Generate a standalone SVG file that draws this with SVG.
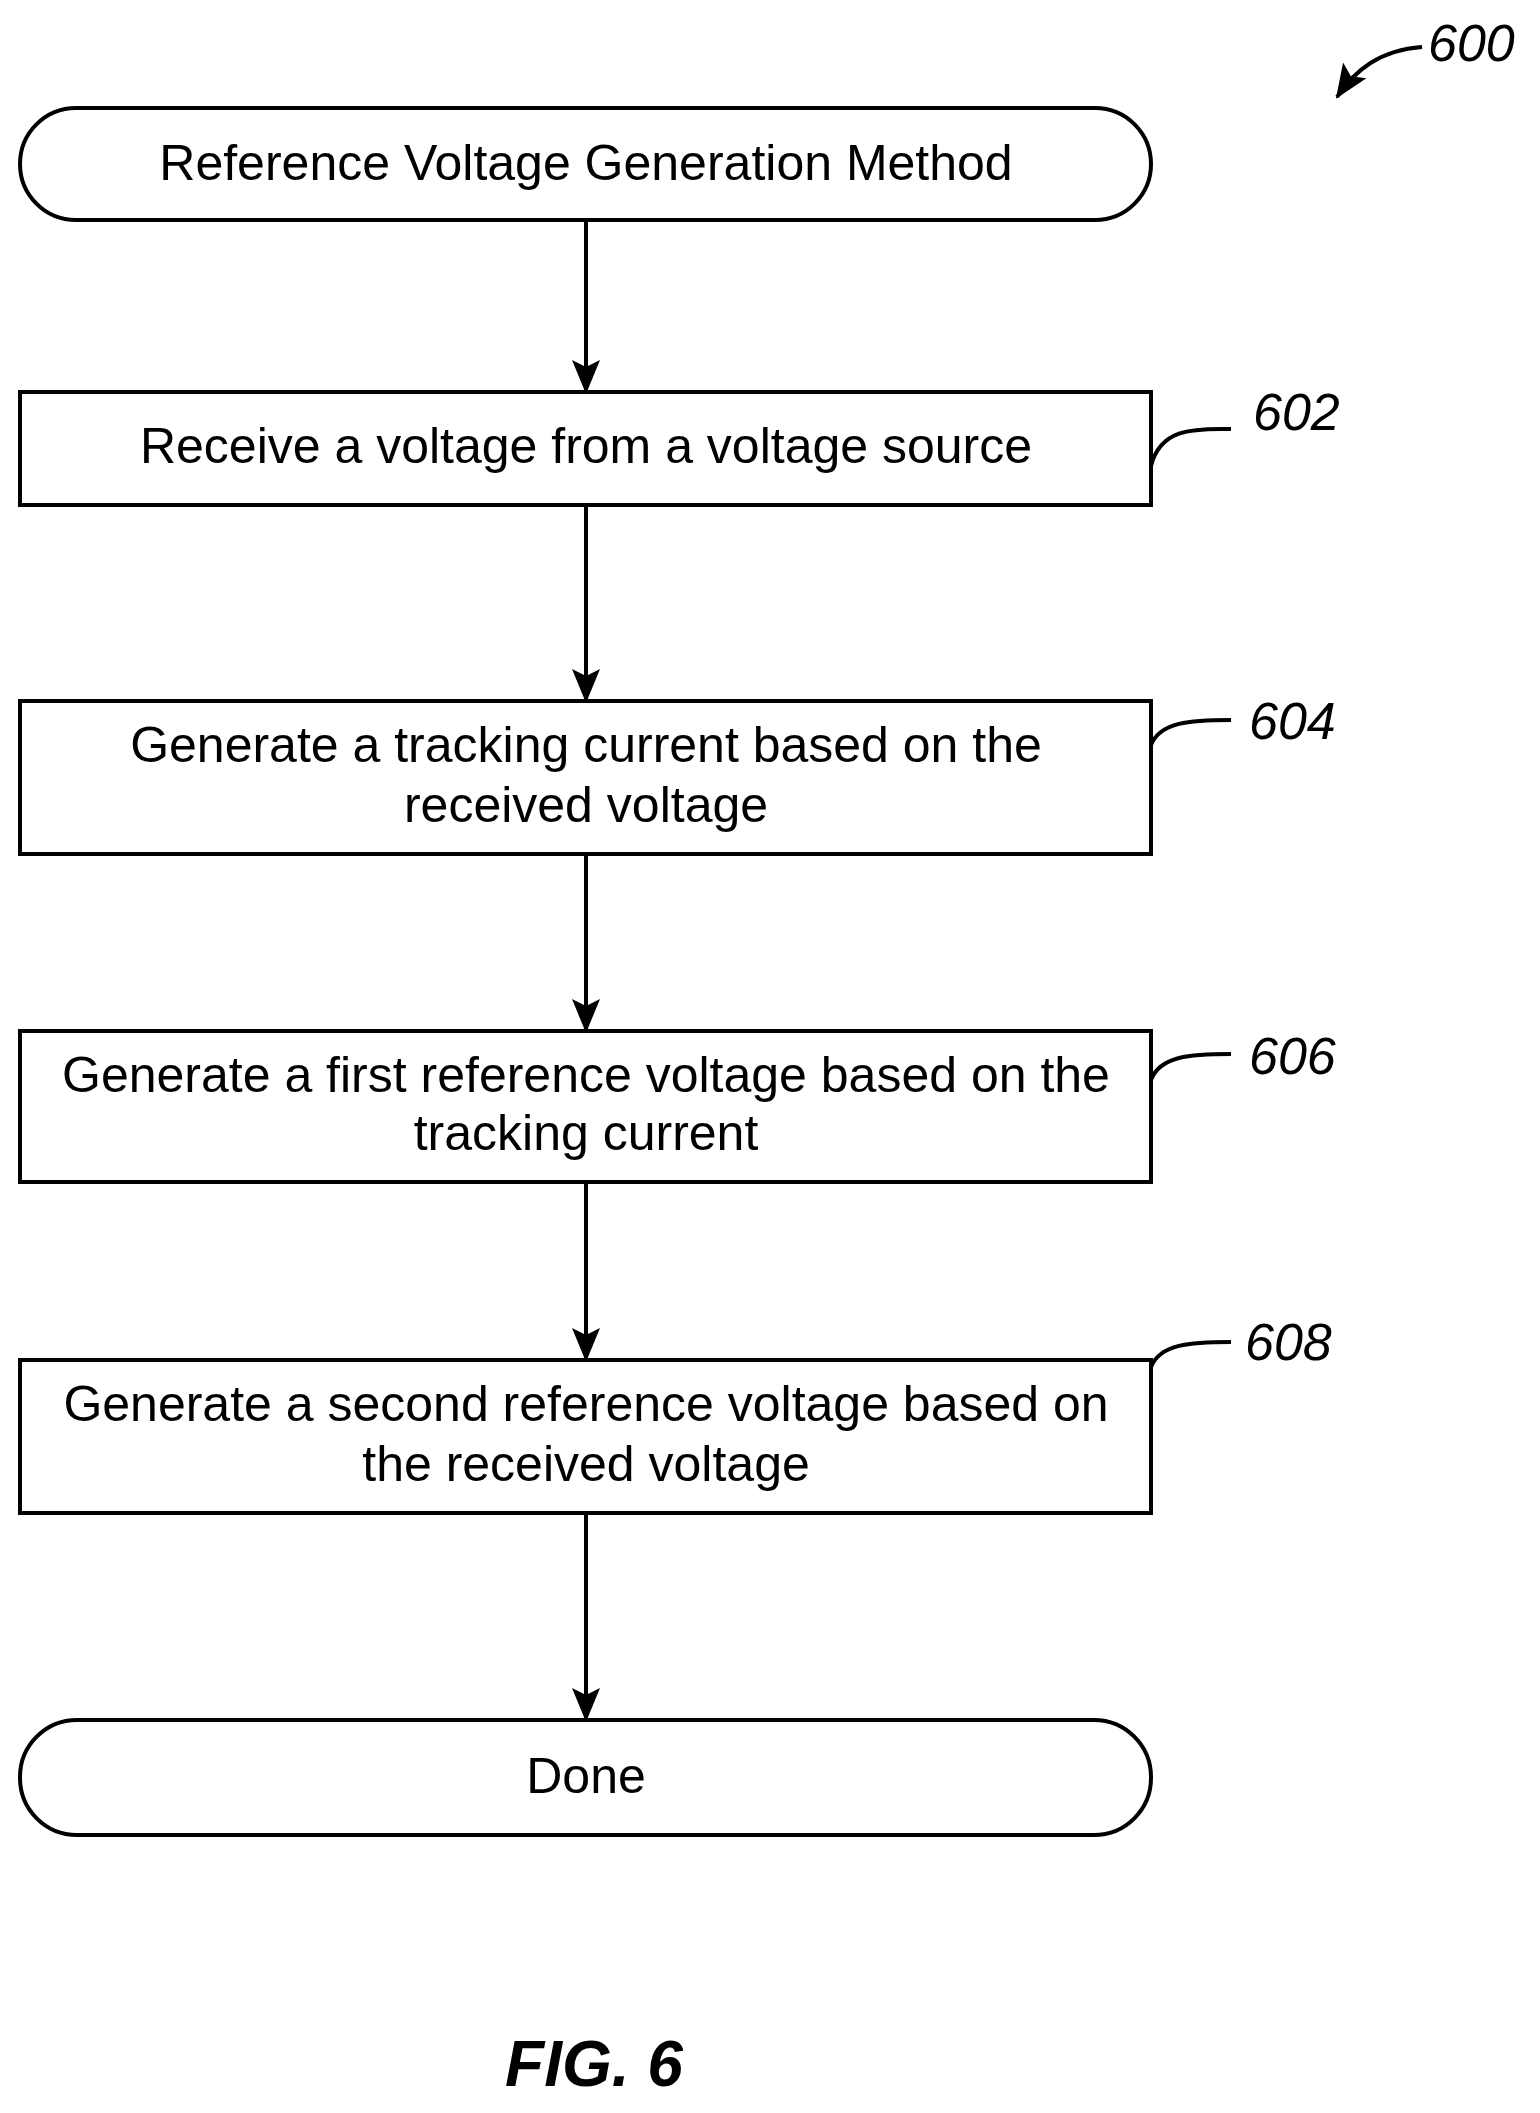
<svg xmlns="http://www.w3.org/2000/svg" width="1540" height="2113" viewBox="0 0 1540 2113">
<defs>
<style>
.b{fill:#fff;stroke:#000;stroke-width:4}
.t{font-family:"Liberation Sans",Arial,sans-serif;font-size:50px;text-anchor:middle;fill:#000}
.r{font-family:"Liberation Sans",Arial,sans-serif;font-size:52px;font-style:italic;fill:#000}
.c{fill:none;stroke:#000;stroke-width:4}
</style>
<marker id="ah" markerWidth="34" markerHeight="40" refX="32" refY="20" orient="auto" markerUnits="userSpaceOnUse"><path d="M0,6 L34,20 L0,34 L7,20 Z" fill="#000"/></marker>
</defs>
<rect width="1540" height="2113" fill="#fff"/>
<g id="connectors">
<line class="c" x1="586" y1="220" x2="586" y2="392" marker-end="url(#ah)"/>
<line class="c" x1="586" y1="505" x2="586" y2="701" marker-end="url(#ah)"/>
<line class="c" x1="586" y1="854" x2="586" y2="1031" marker-end="url(#ah)"/>
<line class="c" x1="586" y1="1182" x2="586" y2="1360" marker-end="url(#ah)"/>
<line class="c" x1="586" y1="1513" x2="586" y2="1720" marker-end="url(#ah)"/>
<path class="c" d="M1151,466 C1160,430 1190,428 1231,429"/>
<path class="c" d="M1151,745 C1160,722 1190,720 1231,720"/>
<path class="c" d="M1151,1080 C1160,1056 1190,1054 1231,1054"/>
<path class="c" d="M1151,1367 C1160,1344 1190,1342 1231,1342"/>
<path class="c" d="M1422,47 C1380,50 1355,70 1337,97" marker-end="url(#ah)"/>
</g>
<g id="start"><rect class="b" x="20" y="108" width="1131" height="112" rx="56"/><text class="t" x="586" y="180">Reference Voltage Generation Method</text></g>
<g id="n602"><rect class="b" x="20" y="392" width="1131" height="113"/><text class="t" x="586" y="463">Receive a voltage from a voltage source</text><text class="r" x="1253" y="430">602</text></g>
<g id="n604"><rect class="b" x="20" y="701" width="1131" height="153"/><text class="t" x="586" y="762">Generate a tracking current based on the</text><text class="t" x="586" y="822">received voltage</text><text class="r" x="1249" y="739">604</text></g>
<g id="n606"><rect class="b" x="20" y="1031" width="1131" height="151"/><text class="t" x="586" y="1092">Generate a first reference voltage based on the</text><text class="t" x="586" y="1150">tracking current</text><text class="r" x="1249" y="1074">606</text></g>
<g id="n608"><rect class="b" x="20" y="1360" width="1131" height="153"/><text class="t" x="586" y="1421">Generate a second reference voltage based on</text><text class="t" x="586" y="1481">the received voltage</text><text class="r" x="1245" y="1360">608</text></g>
<g id="done"><rect class="b" x="20" y="1720" width="1131" height="115" rx="57"/><text class="t" x="586" y="1793">Done</text></g>
<text class="r" x="1428" y="61">600</text>
<text x="594" y="2086" font-family="Liberation Sans,Arial,sans-serif" font-size="64" font-weight="bold" font-style="italic" text-anchor="middle">FIG. 6</text>
</svg>
